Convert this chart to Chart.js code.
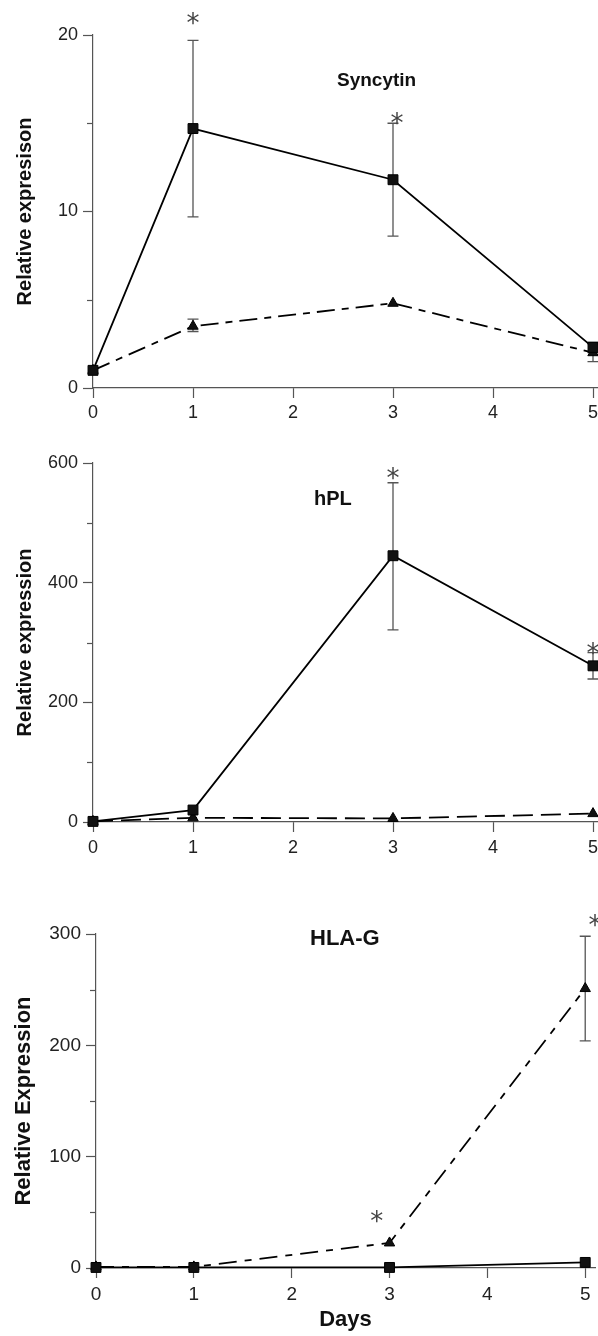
<!DOCTYPE html>
<html><head><meta charset="utf-8">
<script src="https://cdn.jsdelivr.net/npm/chart.js@4/dist/chart.umd.min.js"></script>
<style>
html,body{margin:0;padding:0;background:#fff;}
#wrap{position:relative;width:598px;height:1336px;overflow:hidden;background:#fff}
canvas{position:absolute;left:0}
</style></head><body>
<div id="wrap">
<canvas id="c1" width="598" height="430" style="top:0px"></canvas>
<canvas id="c2" width="598" height="440" style="top:440px"></canvas>
<canvas id="c3" width="598" height="456" style="top:880px"></canvas>
</div>
<script>
// ---------- data ----------
const days = [0, 1, 3, 5];
const xTicks = [0, 1, 2, 3, 4, 5];

// Syncytin
const syncytinSquare = [1.0, 14.7, 11.8, 2.3];
const syncytinSquareErr = [null, [9.7, 19.7], [8.6, 15.0], [2.0, 2.6]];
const syncytinTriangle = [1.0, 3.5, 4.8, 2.0];
const syncytinTriangleErr = [null, [3.2, 3.9], null, [1.5, 2.5]];
const syncytinStars = [[1, 21.0], [3.04, 15.35]];
const syncytinYTicks = [0, 10, 20];
const syncytinYMinor = [5, 15];

// hPL
const hplSquare = [1, 20, 445, 261];
const hplSquareErr = [null, null, [321, 567], [239, 283]];
const hplTriangle = [1, 7, 6, 14];
const hplTriangleErr = [null, null, null, null];
const hplStars = [[3, 585], [5, 292]];
const hplYTicks = [0, 200, 400, 600];
const hplYMinor = [100, 300, 500];

// HLA-G
const hlagSquare = [0.5, 0.5, 0.5, 5];
const hlagSquareErr = [null, null, null, null];
const hlagTriangle = [1, 1, 22.5, 251];
const hlagTriangleErr = [null, null, null, [204, 298]];
const hlagStars = [[2.87, 47.6], [5.1, 313.6]];
const hlagYTicks = [0, 100, 200, 300];
const hlagYMinor = [50, 150, 250];

// ---------- helpers ----------
const FONT = '"Liberation Sans", Arial, Helvetica, sans-serif';
const AXIS = '#555';

function pts(vals) { return vals.map((v, i) => ({x: days[i], y: v})); }

const errorBars = {
  id: 'errorBars',
  beforeDatasetsDraw(chart) {
    const {ctx, scales: {x, y}} = chart;
    ctx.save();
    ctx.strokeStyle = '#555';
    ctx.lineWidth = 1.3;
    chart.data.datasets.forEach(ds => {
      (ds.errorBars || []).forEach((e, i) => {
        if (!e) return;
        const px = x.getPixelForValue(ds.data[i].x);
        const lo = y.getPixelForValue(e[0]);
        const hi = y.getPixelForValue(e[1]);
        ctx.beginPath();
        ctx.moveTo(px, lo); ctx.lineTo(px, hi);
        ctx.moveTo(px - 5.5, lo); ctx.lineTo(px + 5.5, lo);
        ctx.moveTo(px - 5.5, hi); ctx.lineTo(px + 5.5, hi);
        ctx.stroke();
      });
    });
    ctx.restore();
  }
};

const extras = {
  id: 'extras',
  afterDraw(chart, args, o) {
    const {ctx, scales: {x, y}} = chart;
    ctx.save();
    ctx.strokeStyle = AXIS; ctx.lineWidth = 1.2;
    (o.minor || []).forEach(v => {
      const py = Math.round(y.getPixelForValue(v)) + 0.5;
      ctx.beginPath(); ctx.moveTo(x.left - 6, py); ctx.lineTo(x.left, py); ctx.stroke();
    });
    if (o.title) {
      ctx.fillStyle = '#111';
      ctx.font = 'bold ' + o.title.size + 'px ' + FONT;
      ctx.textBaseline = 'alphabetic';
      ctx.textAlign = 'left';
      ctx.fillText(o.title.text, o.title.x, o.title.y);
    }
    const ss = o.starSize || 26;
    ctx.fillStyle = '#444';
    ctx.font = ss + 'px "DejaVu Sans", sans-serif';
    ctx.textAlign = 'center';
    ctx.textBaseline = 'alphabetic';
    (o.stars || []).forEach(s => {
      const px = x.getPixelForValue(s[0]);
      const py = y.getPixelForValue(s[1]);
      ctx.fillText('*', px, py + 0.57 * ss);
    });
    ctx.restore();
  }
};

function makeChart(id, cfg) {
  const H = cfg.height;
  return new Chart(document.getElementById(id), {
    type: 'line',
    data: {
      datasets: [
        {
          data: pts(cfg.square), errorBars: cfg.squareErr,
          borderColor: '#000', borderWidth: 1.8, backgroundColor: '#000',
          pointStyle: 'rect', pointRadius: 7, pointBorderWidth: 1,
          pointBackgroundColor: '#111', pointBorderColor: '#000',
          tension: 0, clip: false
        },
        {
          data: pts(cfg.triangle), errorBars: cfg.triangleErr,
          borderColor: '#000', borderWidth: 1.8, borderDash: cfg.dash,
          pointStyle: 'triangle', pointRadius: 6, pointBorderWidth: 1,
          pointBackgroundColor: '#111', pointBorderColor: '#000',
          tension: 0, clip: false
        }
      ]
    },
    options: {
      responsive: false, animation: false, events: [],
      layout: {autoPadding: false, padding: {left: 0, right: cfg.padRight, top: cfg.top, bottom: 0}},
      plugins: {
        legend: {display: false}, tooltip: {enabled: false},
        extras: {minor: cfg.minor, title: cfg.title, stars: cfg.stars, starSize: cfg.starSize}
      },
      scales: {
        x: {
          type: 'linear', min: 0, max: cfg.xMax,
          afterBuildTicks: s => { s.ticks = xTicks.map(v => ({value: v})); },
          afterFit: s => { s.height = H - cfg.bottom; s.paddingLeft = 0; s.paddingRight = 0; },
          border: {display: true, color: AXIS, width: 1.2},
          grid: {drawOnChartArea: false, drawTicks: true, tickLength: 10, color: AXIS, tickWidth: 1.2},
          ticks: {color: '#222', padding: cfg.xPad, font: {family: FONT, size: cfg.tickSize}, maxRotation: 0},
          title: cfg.xTitle ? {display: true, text: cfg.xTitle, color: '#111',
            font: {family: FONT, size: 22, weight: 'bold'}, padding: {top: 0, bottom: 3}} : {display: false}
        },
        y: {
          type: 'linear', min: cfg.yTicks[0], max: cfg.yTicks[cfg.yTicks.length - 1],
          afterBuildTicks: s => { s.ticks = cfg.yTicks.map(v => ({value: v})); },
          afterFit: s => { s.width = cfg.left; s.paddingTop = 0; s.paddingBottom = 0; },
          border: {display: true, color: AXIS, width: 1.2},
          grid: {drawOnChartArea: false, drawTicks: true, tickLength: 10, color: AXIS, tickWidth: 1.2},
          ticks: {color: '#222', padding: 5, font: {family: FONT, size: cfg.tickSize}},
          title: {display: true, text: cfg.yTitle, color: '#111',
            font: {family: FONT, size: cfg.yTitleSize, weight: 'bold'}, padding: {top: cfg.yTitlePad, bottom: 0}}
        }
      }
    },
    plugins: [errorBars, extras]
  });
}

makeChart('c1', {
  height: 430, top: 35, bottom: 388, left: 93, padRight: 0, xMax: 5.05,
  square: syncytinSquare, squareErr: syncytinSquareErr,
  triangle: syncytinTriangle, triangleErr: syncytinTriangleErr,
  dash: [18, 7, 7, 7], yTicks: syncytinYTicks, minor: syncytinYMinor,
  stars: syncytinStars, starSize: 26, tickSize: 18, xPad: 4,
  yTitle: 'Relative expresison', yTitleSize: 20, yTitlePad: 13,
  title: {text: 'Syncytin', x: 337, y: 86, size: 19}
});

makeChart('c2', {
  height: 440, top: 23, bottom: 382, left: 93, padRight: 0, xMax: 5.05,
  square: hplSquare, squareErr: hplSquareErr,
  triangle: hplTriangle, triangleErr: hplTriangleErr,
  dash: [20, 8], yTicks: hplYTicks, minor: hplYMinor,
  stars: hplStars, starSize: 26, tickSize: 18, xPad: 5,
  yTitle: 'Relative expression', yTitleSize: 20, yTitlePad: 13,
  title: {text: 'hPL', x: 314, y: 65, size: 20}
});

makeChart('c3', {
  height: 456, top: 54, bottom: 388, left: 96, padRight: 3, xMax: 5.1,
  square: hlagSquare, squareErr: hlagSquareErr,
  triangle: hlagTriangle, triangleErr: hlagTriangleErr,
  dash: [18, 8, 7, 8], yTicks: hlagYTicks, minor: hlagYMinor,
  stars: hlagStars, starSize: 26, tickSize: 19, xPad: 5, xTitle: 'Days',
  yTitle: 'Relative Expression', yTitleSize: 22, yTitlePad: 11,
  title: {text: 'HLA-G', x: 310, y: 65, size: 22}
});
</script>
</body></html>
